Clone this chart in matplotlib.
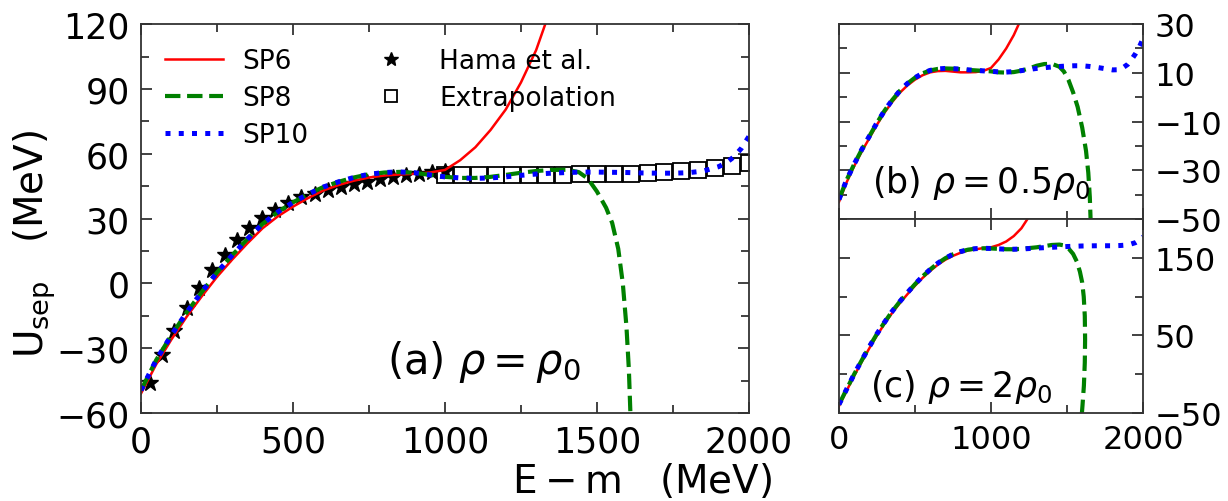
import numpy as np
import matplotlib.pyplot as plt
from matplotlib.ticker import MultipleLocator

# ---- panel (a): rho = rho0 ----
hama_e = [30, 70, 110, 150, 190, 232, 276, 316, 355, 397, 440, 484, 528, 572,
          615, 658, 700, 743, 786, 829, 872, 915, 958, 1000]
hama_u = [-46, -33, -22, -11.6, -2, 6, 13, 20, 25.5, 30.3, 34, 37.4, 40, 41.5,
          43, 44.5, 46, 47, 48.5, 49.3, 50, 50.8, 51.5, 52]

extr_e = [1000, 1056, 1111, 1167, 1222, 1278, 1333, 1389, 1444, 1500, 1556,
          1611, 1667, 1722, 1778, 1833, 1889, 1944, 2000]
extr_u = [50, 50, 50, 50, 50, 50.1, 50.2, 50.3, 50.4, 50.5, 50.6,
          50.8, 51, 51.4, 51.9, 52.6, 53.4, 54.4, 55.5]

a_sp6_e = [0, 50, 100, 150, 200, 250, 300, 350, 400, 450, 500, 550, 600, 650,
           700, 750, 800, 850, 900, 950, 1000, 1050, 1100, 1150, 1200, 1250,
           1300, 1330, 1350]
a_sp6_u = [-51, -37.5, -26, -15.5, -6, 3, 11, 18.5, 25.5, 31, 35.5, 39.5, 43, 45.5,
           47.5, 49, 49.9, 50.4, 50.7, 51.3, 52.5, 57, 63, 71, 80.5, 93,
           108, 120, 130]

a_sp8_e = [0, 50, 100, 150, 200, 250, 300, 350, 400, 450, 500, 550, 600, 650,
           700, 750, 800, 850, 900, 950, 1000, 1050, 1100, 1150, 1200, 1250,
           1300, 1350, 1400, 1440, 1470, 1500, 1530, 1550, 1570, 1585, 1597,
           1605, 1610, 1613]
a_sp8_u = [-49.5, -35.5, -24, -13.5, -4, 5, 13, 20.5, 27.5, 33, 37.5, 41.3, 44.6, 47,
           49, 50.5, 51.3, 51.6, 51.2, 50.2, 49.3, 48.8, 48.8, 49.3, 50.2, 51.2,
           52, 52.5, 52.6, 51.5, 48.5, 42.5, 35, 28, 16, 0, -20,
           -40, -60, -70]

a_sp10_e = [0, 50, 100, 150, 200, 250, 300, 350, 400, 450, 500, 550, 600, 650,
            700, 750, 800, 850, 900, 950, 1000, 1050, 1100, 1150, 1200, 1250,
            1300, 1350, 1400, 1450, 1500, 1550, 1600, 1650, 1700, 1750, 1800,
            1850, 1900, 1925, 1950, 1975, 2000]
a_sp10_u = [-49.5, -35.5, -24, -13.5, -4, 5, 13, 20.5, 27.5, 33, 37.5, 41.3, 44.6, 47,
            49, 50.5, 51.3, 51.6, 51.2, 50.2, 49.3, 48.8, 48.6, 48.8, 49.3, 50,
            50.6, 51, 51.3, 51.5, 51.5, 51.4, 51.3, 51.1, 51, 51, 51.2,
            52, 54, 55.8, 58.5, 62.5, 68]

# ---- panel (b): rho = 0.5 rho0 ----
b_sp6_e = [0, 50, 100, 150, 200, 250, 300, 350, 400, 450, 500, 550, 600, 650,
           700, 750, 800, 850, 900, 950, 1000, 1050, 1100, 1150, 1190, 1210]
b_sp6_u = [-43, -35, -28.3, -22.3, -16.8, -11.3, -6.3, -2, 1.8, 4.8, 7.2, 9,
           10.2, 10.7, 10.8, 10.5, 10.2, 10.2, 10.3, 10.8, 12, 15.5, 20, 25.5,
           31, 34]

b_sp8_e = [0, 50, 100, 150, 200, 250, 300, 350, 400, 450, 500, 550, 600, 650,
           700, 750, 800, 850, 900, 950, 1000, 1050, 1100, 1150, 1200, 1250,
           1300, 1350, 1400, 1450, 1480, 1510, 1540, 1570, 1600, 1625, 1640,
           1650, 1655, 1657]
b_sp8_u = [-42, -34, -27.5, -21.5, -16, -10.5, -5.5, -1.2, 2.6, 5.6, 8, 9.8,
           11, 11.6, 11.8, 11.7, 11.5, 11.2, 11, 10.8, 10.6, 10.2, 10.1, 10.3,
           10.9, 11.8, 12.9, 13.6, 13.7, 12.5, 10.5, 7, 2, -4, -12.5, -22, -31,
           -41, -50, -55]

b_sp10_e = [0, 50, 100, 150, 200, 250, 300, 350, 400, 450, 500, 550, 600, 650,
            700, 750, 800, 850, 900, 950, 1000, 1050, 1100, 1150, 1200, 1250,
            1300, 1350, 1400, 1450, 1500, 1550, 1600, 1650, 1700, 1750, 1800,
            1850, 1900, 1925, 1950, 1975, 2000]
b_sp10_u = [-42, -34, -27.5, -21.5, -16, -10.5, -5.5, -1.2, 2.6, 5.6, 8, 9.8,
            11, 11.6, 11.8, 11.7, 11.5, 11.2, 11, 10.8, 10.6, 10.4, 10.3, 10.5,
            10.9, 11.4, 11.8, 12.1, 12.4, 12.6, 12.8, 12.9, 12.9, 12.6, 12.2,
            11.7, 11.2, 11.3, 13.5, 15.5, 17.8, 20.5, 24]

# ---- panel (c): rho = 2 rho0 ----
c_sp6_e = [0, 50, 100, 150, 200, 250, 300, 350, 400, 450, 500, 550, 600, 650,
           700, 750, 800, 850, 900, 950, 1000, 1050, 1100, 1150, 1200, 1240, 1260]
c_sp6_u = [-41, -21.5, -2, 16, 33.5, 50, 65, 79, 91.5, 103, 114, 124, 133,
           141, 147.5, 152.5, 156.5, 159.5, 161, 162.5, 163.5, 166.5, 171, 178,
           188, 200, 206]

c_sp8_e = [0, 50, 100, 150, 200, 250, 300, 350, 400, 450, 500, 550, 600, 650,
           700, 750, 800, 850, 900, 950, 1000, 1050, 1100, 1150, 1200, 1250,
           1300, 1350, 1400, 1450, 1480, 1510, 1540, 1565, 1585, 1600, 1610,
           1617, 1619, 1617, 1611, 1602, 1598]
c_sp8_u = [-39, -19.5, 0, 18, 35.5, 52, 67, 81, 93.5, 105, 116, 126, 135, 143,
           149.5, 154.5, 158, 160.5, 161.8, 162.2, 162, 161.5, 161, 161, 161.5,
           162.5, 163.5, 165, 166.5, 167, 166, 162, 155, 145, 132, 118, 100,
           75, 45, 15, -15, -40, -50]

c_sp10_e = [0, 50, 100, 150, 200, 250, 300, 350, 400, 450, 500, 550, 600, 650,
            700, 750, 800, 850, 900, 950, 1000, 1050, 1100, 1150, 1200, 1300,
            1400, 1500, 1600, 1700, 1800, 1850, 1900, 1950, 1975, 2000]
c_sp10_u = [-39, -19.5, 0, 18, 35.5, 52, 67, 81, 93.5, 105, 116, 126, 135, 143,
            149.5, 154.5, 158, 160.5, 161.8, 162.2, 162, 161.5, 161, 161, 161.3,
            162.5, 163.5, 164.5, 165.2, 165.5, 165.5, 165.8, 166.5, 169.5,
            172.5, 177]

plt.rcParams['font.family'] = ['DejaVu Sans']
plt.rcParams['mathtext.fontset'] = 'dejavusans'

fig = plt.figure(figsize=(12.28, 5.02), dpi=100)
ax_a = fig.add_axes([0.1148, 0.1753, 0.4951, 0.7747])
ax_b = fig.add_axes([0.6832, 0.5618, 0.2476, 0.3882])
ax_c = fig.add_axes([0.6832, 0.1753, 0.2476, 0.3865])

spine_col = '#333333'
red_kw = dict(color='red', lw=1.8, ls='-')
green_kw = dict(color='green', lw=3.0, ls='--')
blue_kw = dict(color='blue', lw=3.6, ls=':')

def style(ax, size, right=False):
    for s in ax.spines.values():
        s.set_color(spine_col)
        s.set_linewidth(1.3)
    ax.tick_params(which='both', direction='in', top=True, right=True,
                   color=spine_col, width=1.3, labelsize=size, pad=8)
    ax.tick_params(which='major', length=8)
    ax.tick_params(which='minor', length=6)
    if right:
        ax.tick_params(which='both', labelleft=False, labelright=True)

# panel (a)
st, = ax_a.plot(hama_e, hama_u, ls='none', marker='*', ms=12, color='black',
                mec='black')
sq, = ax_a.plot(extr_e, extr_u, ls='none', marker='s', ms=11, mfc='none',
                mec='black', mew=1.3)
l6, = ax_a.plot(a_sp6_e, a_sp6_u, **red_kw)
l8, = ax_a.plot(a_sp8_e, a_sp8_u, **green_kw)
l10, = ax_a.plot(a_sp10_e, a_sp10_u, **blue_kw)
ax_a.set_xlim(0, 2000)
ax_a.set_ylim(-60, 120)
ax_a.xaxis.set_major_locator(MultipleLocator(500))
ax_a.xaxis.set_minor_locator(MultipleLocator(250))
ax_a.yaxis.set_major_locator(MultipleLocator(30))
ax_a.yaxis.set_minor_locator(MultipleLocator(15))
style(ax_a, 25)
ax_a.text(0.564, 0.134, r'(a) $\rho = \rho_0$', transform=ax_a.transAxes,
          fontsize=30, ha='center', va='center')
ax_a.legend([l6, l8, l10, st, sq], ['SP6', 'SP8', 'SP10', 'Hama et al.', 'Extrapolation'],
            ncol=2, frameon=False, loc='upper left', fontsize=19,
            handlelength=2.2, handletextpad=0.75, columnspacing=2.0,
            labelspacing=0.42, numpoints=1, markerscale=0.85)

# panel (b)
ax_b.plot(b_sp6_e, b_sp6_u, **red_kw)
ax_b.plot(b_sp8_e, b_sp8_u, **green_kw)
ax_b.plot(b_sp10_e, b_sp10_u, **blue_kw)
ax_b.set_xlim(0, 2000)
ax_b.set_ylim(-50, 30)
ax_b.xaxis.set_major_locator(MultipleLocator(1000))
ax_b.xaxis.set_minor_locator(MultipleLocator(500))
ax_b.set_yticks([-50, -30, -10, 10, 30])
ax_b.set_yticks([-40, -20, 0, 20], minor=True)
style(ax_b, 23, right=True)
ax_b.tick_params(labelbottom=False)
ax_b.text(0.467, 0.19, r'(b) $\rho = 0.5\rho_0$', transform=ax_b.transAxes,
          fontsize=25, ha='center', va='center')

# panel (c)
ax_c.plot(c_sp6_e, c_sp6_u, **red_kw)
ax_c.plot(c_sp8_e, c_sp8_u, **green_kw)
ax_c.plot(c_sp10_e, c_sp10_u, **blue_kw)
ax_c.set_xlim(0, 2000)
ax_c.set_ylim(-50, 200)
ax_c.xaxis.set_major_locator(MultipleLocator(1000))
ax_c.xaxis.set_minor_locator(MultipleLocator(500))
ax_c.set_yticks([-50, 50, 150])
ax_c.set_yticks([0, 100, 200], minor=True)
style(ax_c, 23, right=True)
ax_c.text(0.401, 0.139, r'(c) $\rho = 2\rho_0$', transform=ax_c.transAxes,
          fontsize=25, ha='center', va='center')

fig.text(0.523, 0.040, r'$\mathrm{E - m}$   (MeV)', fontsize=28,
         ha='center', va='center')
fig.text(0.028, 0.515, r'$\mathrm{U_{sep}}$   (MeV)', fontsize=28,
         ha='center', va='center', rotation=90)

fig.savefig('out.png', dpi=100)
